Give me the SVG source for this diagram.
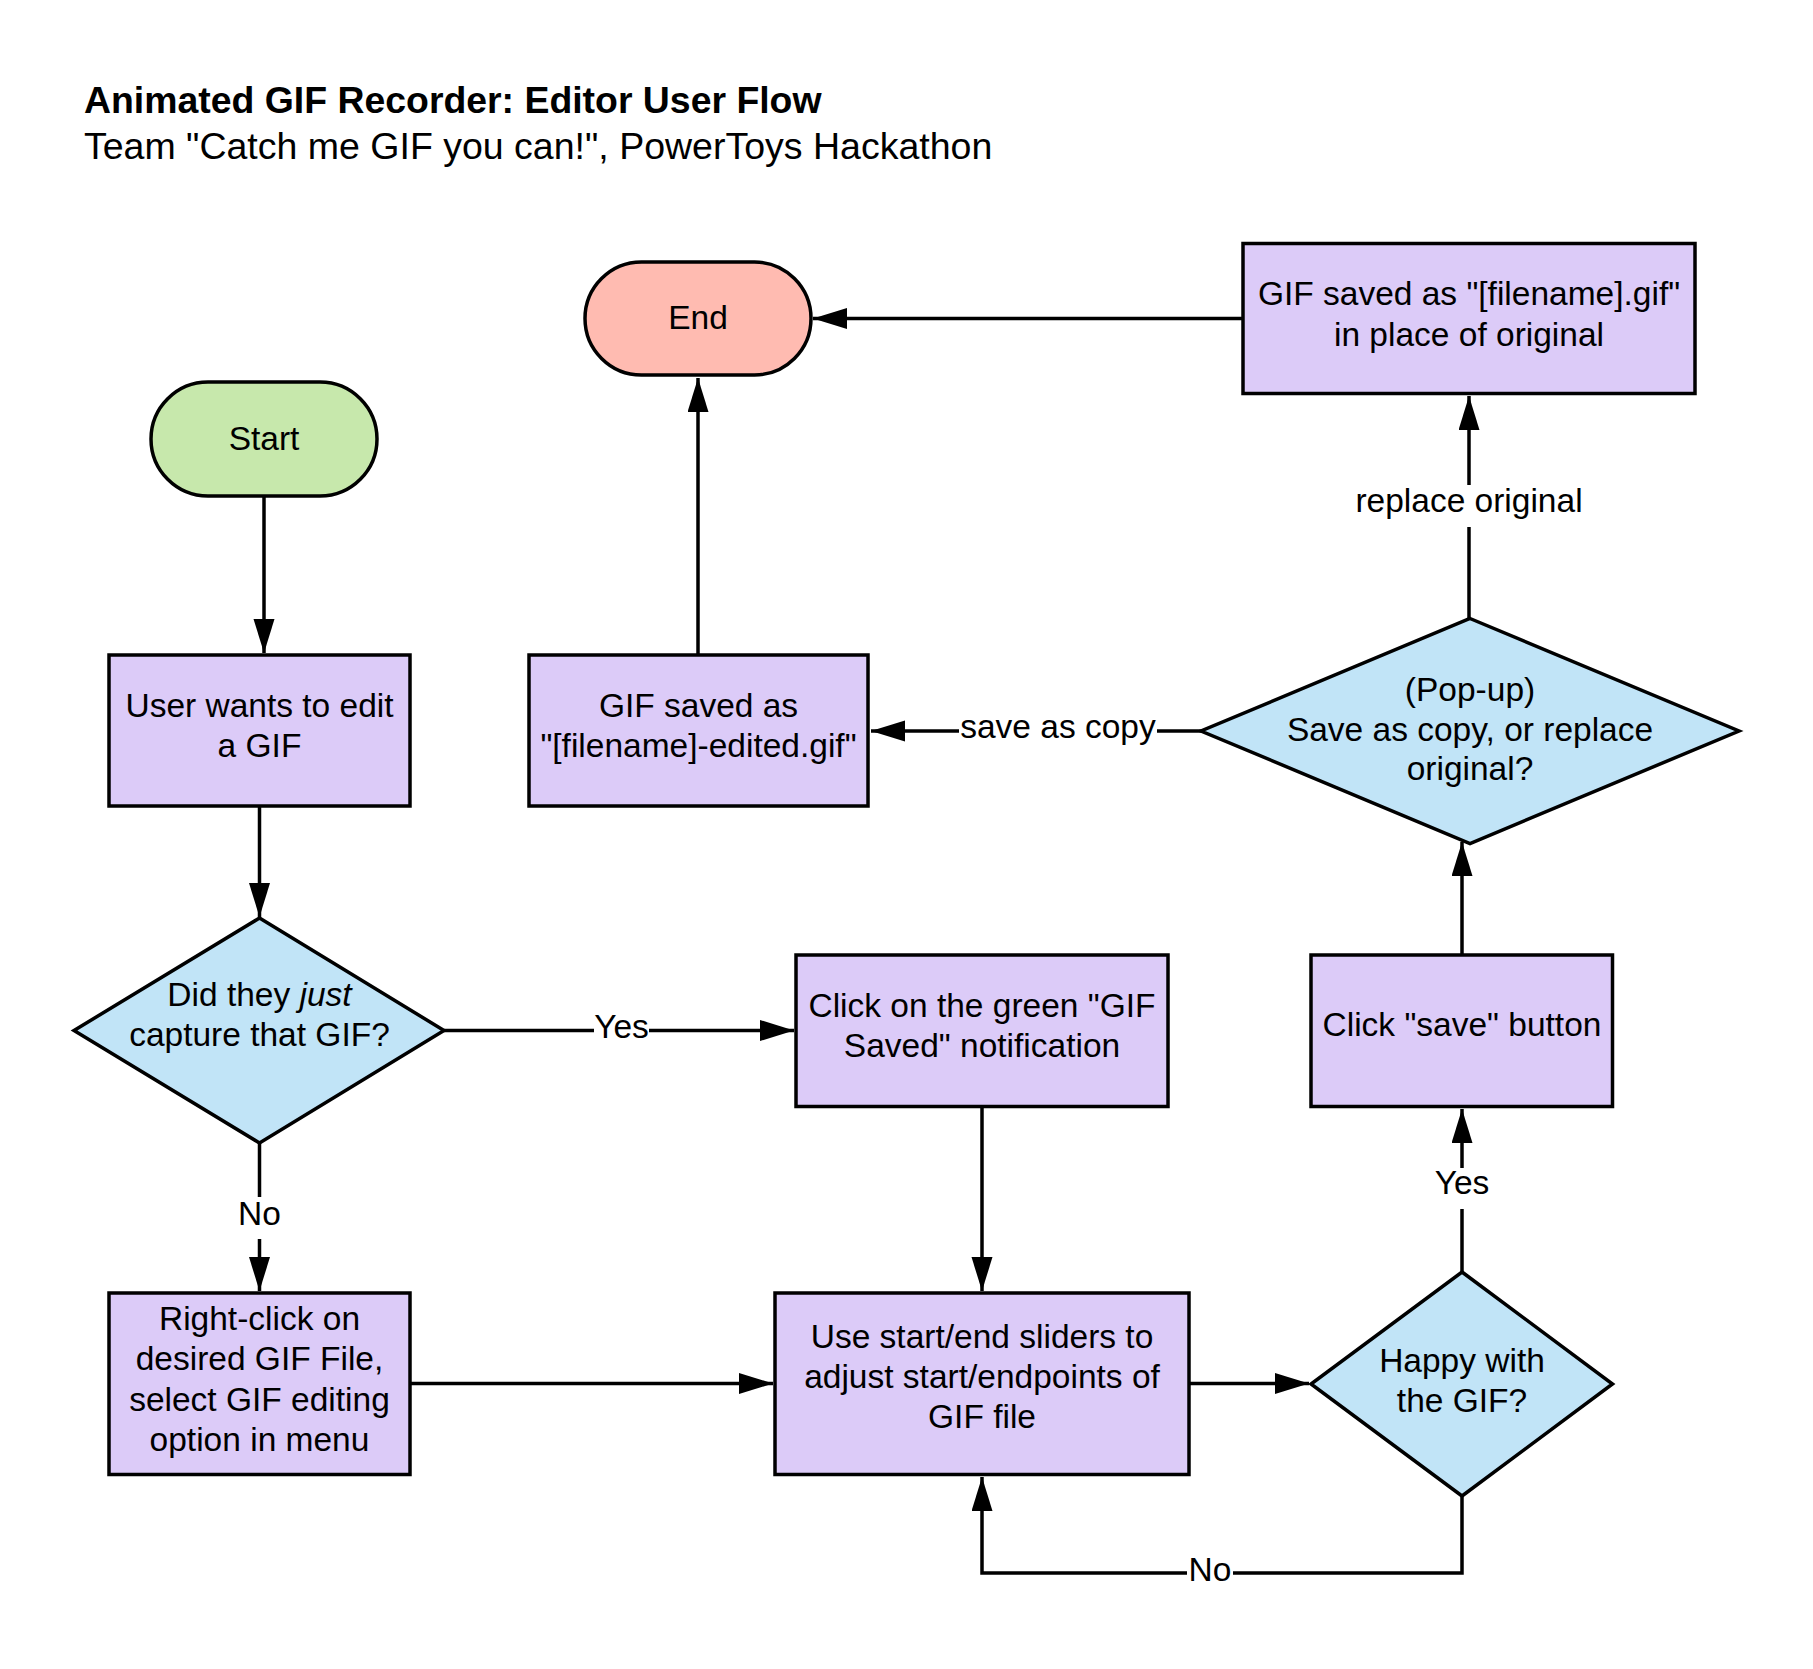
<svg xmlns="http://www.w3.org/2000/svg" width="1813" height="1669" viewBox="0 0 1813 1669">
<style>
text{font-family:"Liberation Sans",Arial,sans-serif;fill:#000}
.t{font-size:33.5px;text-anchor:middle}
.box{fill:#dccbf8;stroke:#000;stroke-width:3.5}
.dec{fill:#c1e4f7;stroke:#000;stroke-width:3.5}
.ln{fill:none;stroke:#000;stroke-width:3.5}
.arr{fill:none;stroke:#000;stroke-width:3.5;marker-end:url(#ah)}
</style>
<defs>
<marker id="ah" markerUnits="userSpaceOnUse" markerWidth="36" markerHeight="22" refX="34" refY="10.5" orient="auto">
<path d="M0,0 L34,10.5 L0,21 z" fill="#000"/>
</marker>
</defs>
<rect width="1813" height="1669" fill="#fff"/>
<g id="title">
<text x="84" y="113" style="font-size:37.4px;font-weight:bold">Animated GIF Recorder: Editor User Flow</text>
<text x="84" y="158.5" style="font-size:37.5px">Team "Catch me GIF you can!", PowerToys Hackathon</text>
</g>
<g id="connectors">
<path class="arr" d="M264,496 L264,653"/>
<path class="arr" d="M259.5,806 L259.5,917"/>
<path class="ln" d="M444,1030.5 L594,1030.5"/>
<path class="arr" d="M649,1030.5 L794,1030.5"/>
<text class="t" x="621.5" y="1038">Yes</text>
<path class="ln" d="M259.5,1143 L259.5,1197"/>
<path class="arr" d="M259.5,1239 L259.5,1291"/>
<text class="t" x="259.5" y="1225">No</text>
<path class="arr" d="M410,1383.5 L773,1383.5"/>
<path class="arr" d="M982,1106.5 L982,1291"/>
<path class="arr" d="M1189,1383.5 L1309,1383.5"/>
<path class="ln" d="M1462,1272 L1462,1209"/>
<path class="arr" d="M1462,1168 L1462,1109"/>
<text class="t" x="1462" y="1194">Yes</text>
<path class="ln" d="M1462,1496 L1462,1573 L1233,1573"/>
<path class="arr" d="M1187,1573 L982,1573 L982,1477"/>
<text class="t" x="1210" y="1581">No</text>
<path class="arr" d="M1462,955 L1462,842"/>
<path class="ln" d="M1469,618.5 L1469,527"/>
<path class="arr" d="M1469,485 L1469,396"/>
<text class="t" x="1469" y="512">replace original</text>
<path class="ln" d="M1201,731 L1157,731"/>
<path class="arr" d="M959,731 L871,731"/>
<text class="t" x="1058" y="738">save as copy</text>
<path class="arr" d="M1243,318.5 L813,318.5"/>
<path class="arr" d="M698,655 L698,378"/>
</g>
<g id="start">
<rect x="151" y="382" width="226" height="114" rx="57" fill="#c7e8ac" stroke="#000" stroke-width="3.5"/>
<text class="t" x="264" y="449.5">Start</text>
</g>
<g id="end">
<rect x="585" y="262" width="226" height="113" rx="56.5" fill="#ffbbb1" stroke="#000" stroke-width="3.5"/>
<text class="t" x="698" y="329">End</text>
</g>
<g id="user-wants">
<rect class="box" x="109" y="655" width="301" height="151"/>
<text class="t" x="259.5" y="717">User wants to edit</text>
<text class="t" x="259.5" y="756.5">a GIF</text>
</g>
<g id="just-captured">
<polygon class="dec" points="259.5,918 444,1030.5 259.5,1143 74,1030.5"/>
<text class="t" x="259.5" y="1005.5">Did they <tspan font-style="italic">just</tspan></text>
<text class="t" x="259.5" y="1046">capture that GIF?</text>
</g>
<g id="right-click">
<rect class="box" x="109" y="1293" width="301" height="181.5"/>
<text class="t" x="259.5" y="1330">Right-click on</text>
<text class="t" x="259.5" y="1370">desired GIF File,</text>
<text class="t" x="259.5" y="1410.5">select GIF editing</text>
<text class="t" x="259.5" y="1450.5">option in menu</text>
</g>
<g id="click-notification">
<rect class="box" x="796" y="955" width="372" height="151.5"/>
<text class="t" x="982" y="1016.5">Click on the green "GIF</text>
<text class="t" x="982" y="1056.5">Saved" notification</text>
</g>
<g id="sliders">
<rect class="box" x="775" y="1293" width="414" height="181.5"/>
<text class="t" x="982" y="1348">Use start/end sliders to</text>
<text class="t" x="982" y="1388">adjust start/endpoints of</text>
<text class="t" x="982" y="1428">GIF file</text>
</g>
<g id="happy">
<polygon class="dec" points="1462,1272 1612.5,1384 1462,1496 1311,1384"/>
<text class="t" x="1462" y="1372">Happy with</text>
<text class="t" x="1462" y="1412">the GIF?</text>
</g>
<g id="click-save">
<rect class="box" x="1311" y="955" width="301.5" height="151.5"/>
<text class="t" x="1462" y="1036">Click "save" button</text>
</g>
<g id="popup">
<polygon class="dec" points="1470,618.5 1739,731 1470,843.5 1201,731"/>
<text class="t" x="1470" y="701">(Pop-up)</text>
<text class="t" x="1470" y="740.5">Save as copy, or replace</text>
<text class="t" x="1470" y="780">original?</text>
</g>
<g id="saved-copy">
<rect class="box" x="529" y="655" width="339" height="151"/>
<text class="t" x="698.5" y="717">GIF saved as</text>
<text class="t" x="698.5" y="756.5">"[filename]-edited.gif"</text>
</g>
<g id="saved-replace">
<rect class="box" x="1243" y="243.5" width="452" height="150"/>
<text class="t" x="1469" y="305">GIF saved as "[filename].gif"</text>
<text class="t" x="1469" y="346">in place of original</text>
</g>
</svg>
